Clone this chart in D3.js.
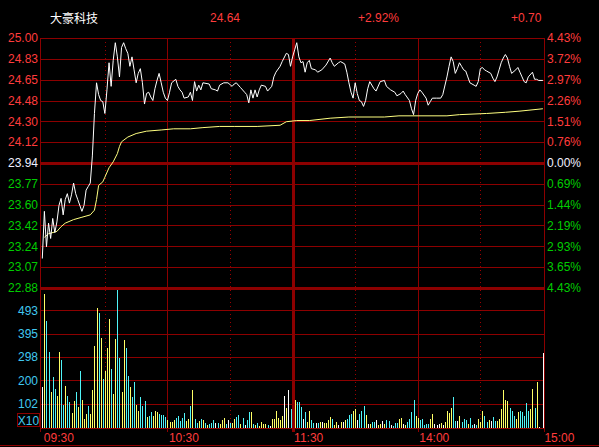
<!DOCTYPE html>
<html><head><meta charset="utf-8">
<script src="https://cdn.jsdelivr.net/npm/d3@7"></script>
<style>html,body{margin:0;padding:0;background:#000;overflow:hidden}svg{display:block}</style>
</head><body><svg id="c" width="599" height="447"></svg>
<script>
// ---------------- DATA ----------------
const stockName = "大豪科技";
const lastPrice = "24.64";
const changePct = "+2.92%";
const changeAmt = "+0.70";
const priceMax = 25.00, priceMin = 22.88, prevClose = 23.94;
const priceTicks = ["25.00","24.83","24.65","24.48","24.30","24.12","23.94","23.77","23.60","23.42","23.24","23.07","22.88"];
const pctTicks = ["4.43%","3.72%","2.97%","2.26%","1.51%","0.76%","0.00%","0.69%","1.44%","2.19%","2.93%","3.65%","4.43%"];
const volTicks = [102, 200, 298, 395, 493];
const volMax = 586;
const volUnit = "X10";
const timeLabels = ["09:30","10:30","11:30","14:00","15:00"];
const timeLabelMin = [0, 60, 120, 180, 240];
const solidGridMin = [60, 180];
const thickGridMin = [120];
const dottedGridMin = [30, 90, 150, 210];

const priceMinute = [0,1,2,3,4,5,6,7,8,9,10,11,12,13,14,15,16,17,19,20,21,22,23,24,25,26,27,28,29,30,31,32,33,34,35,36,37,38,39,40,41,42,43,44,45,46,47,48,49,50,51,52,53,54,55,56,57,58,59,60,61,62,64,65,66,67,68,70,71,72,73,74,75,76,77,80,81,83,84,85,87,89,91,92,93,95,97,98,99,100,101,102,103,104,105,107,108,110,111,112,114,115,117,118,119,120,121,122,123,124,125,126,127,128,129,131,132,134,136,138,139,140,142,143,145,146,147,148,149,150,151,152,153,154,155,156,157,159,160,162,164,165,167,169,170,172,173,174,176,177,178,179,180,181,182,184,185,186,187,189,191,192,194,195,196,197,198,199,200,201,202,203,204,205,207,208,209,210,211,212,213,215,216,217,218,219,220,221,222,223,224,225,227,228,229,230,231,232,233,235,236,237,238,240];
const priceValue = [23.13,23.53,23.23,23.43,23.30,23.47,23.35,23.44,23.58,23.64,23.50,23.63,23.68,23.60,23.67,23.77,23.68,23.63,23.53,23.58,23.71,23.74,23.77,24.00,24.36,24.62,24.52,24.47,24.46,24.36,24.56,24.79,24.59,24.81,24.96,24.84,24.67,24.92,24.96,24.91,24.87,24.76,24.84,24.73,24.62,24.70,24.74,24.62,24.44,24.53,24.54,24.50,24.47,24.57,24.64,24.70,24.62,24.54,24.49,24.47,24.54,24.62,24.65,24.59,24.56,24.54,24.49,24.50,24.54,24.47,24.63,24.55,24.60,24.56,24.62,24.61,24.57,24.56,24.55,24.60,24.62,24.62,24.59,24.61,24.62,24.58,24.54,24.52,24.45,24.56,24.49,24.56,24.50,24.56,24.60,24.59,24.55,24.59,24.67,24.71,24.76,24.80,24.87,24.86,24.76,24.84,24.90,24.96,24.84,24.79,24.80,24.71,24.79,24.81,24.74,24.73,24.71,24.73,24.77,24.83,24.79,24.76,24.79,24.80,24.78,24.71,24.62,24.54,24.49,24.62,24.53,24.47,24.46,24.42,24.47,24.57,24.63,24.57,24.55,24.63,24.64,24.59,24.56,24.54,24.51,24.53,24.55,24.52,24.47,24.40,24.35,24.47,24.53,24.56,24.54,24.49,24.43,24.46,24.49,24.49,24.49,24.52,24.67,24.76,24.84,24.80,24.70,24.74,24.79,24.76,24.73,24.72,24.67,24.62,24.60,24.59,24.63,24.74,24.75,24.73,24.72,24.70,24.66,24.63,24.67,24.73,24.79,24.83,24.86,24.83,24.76,24.70,24.73,24.75,24.71,24.67,24.63,24.62,24.67,24.71,24.65,24.65,24.64,24.64];

const avgMinute = [1,3,7,9,11,15,19,23,25,26,27,29,30,32,34,36,37,38,41,45,50,57,63,71,77,85,92,103,114,117,122,128,138,147,164,171,194,200,213,222,229,240];
const avgValue = [23.31,23.34,23.36,23.40,23.43,23.46,23.48,23.50,23.54,23.63,23.75,23.78,23.82,23.90,23.95,24.02,24.08,24.12,24.16,24.19,24.21,24.22,24.23,24.23,24.24,24.25,24.25,24.25,24.26,24.29,24.30,24.30,24.32,24.33,24.33,24.34,24.34,24.35,24.36,24.37,24.38,24.40];

const volume = [
173,559,448,319,150,215,164,132,319,286,
98,177,132,107,61,111,152,86,240,119,
36,57,90,57,161,344,502,481,377,207,
240,335,456,248,144,373,577,294,152,369,
335,219,173,128,194,98,73,128,94,111,
44,49,65,49,73,65,57,53,53,44,
32,24,24,32,40,49,28,40,61,29,
39,94,157,39,21,29,39,32,21,11,
18,21,32,21,21,15,32,42,15,32,
21,21,36,46,53,18,42,11,32,67,
67,15,11,21,7,25,15,15,11,7,
36,36,73,42,32,49,136,83,157,78,
46,119,108,108,87,36,67,25,71,32,
21,21,21,25,25,21,21,32,46,37,
12,24,14,25,25,32,39,55,60,73,
78,32,60,71,91,53,18,15,24,24,
32,11,18,28,15,32,29,14,10,19,
19,36,42,15,11,24,36,65,119,49,
42,32,36,11,15,15,36,57,18,11,
15,19,11,24,73,61,82,128,28,28,
49,24,36,32,15,40,11,18,11,36,
24,73,49,24,32,28,44,28,28,36,
78,157,119,115,82,73,49,36,69,73,
69,49,103,73,78,165,82,194,4,0,315];
// u = up (yellow), d = down (cyan), f = flat (white); one letter per minute
const volumeDir = [
"fuddudduud","dudduududu","uuduuuudud","uuuduudduu","ddudduuddd",
"udduuudddd","uuuudddddu","ududdududu","dddfduuudf","duuddudfdd",
"ududuuuudf","uuuuuufufd","uudddfduud","dfdufuuuud","uufufudddu",
"ufdddufudd","fuufuddfdd","duufuddddu","uddddduuff","fufuuuuddf",
"uddduddfdu","uuddufdduu","uuuuddduud","dddduudufff"
].join("").split("");

// ---------------- LAYOUT ----------------
const W = 599, H = 447;
const L = 40.5, R = 544.5, T = 38, PB = 288, VB = 428, BOT = 445;
const GRID = "#8c0000", DOT = "#9a0000";
const RED = "#ff3c3c", GREEN = "#00cc00", WHITE = "#f0f0ff", CYANT = "#40c8f0";
const FONT = "'Liberation Sans', Arial, sans-serif";
const colorMap = {u: "#ffff66", d: "#50f4f8", f: "#ffffff"};

const svg = d3.select("#c");
svg.append("rect").attr("width", W).attr("height", H).attr("fill", "#000");

const x = d3.scaleLinear().domain([0, 240]).range([42.3, 542.9]);
const y = d3.scaleLinear().domain([priceMin, priceMax]).range([PB, T]);
const yv = d3.scaleLinear().domain([0, volMax]).range([VB, PB]);

const g = svg.append("g").attr("shape-rendering", "crispEdges");

// price grid
const nP = priceTicks.length;
const gridPrices = d3.range(nP).map(i => priceMax - i * (priceMax - priceMin) / (nP - 1));
gridPrices.forEach((p, i) => {
  const thick = (i === 6 || i === nP - 1);
  const yy = thick ? Math.round(y(p)) : Math.round(y(p)) + 0.5;
  g.append("line").attr("x1", L).attr("x2", R).attr("y1", yy).attr("y2", yy)
    .attr("stroke", GRID).attr("stroke-width", thick ? 3 : 1);
});
// volume grid
volTicks.forEach(v => {
  const yy = Math.round(yv(v)) + 0.5;
  g.append("line").attr("x1", L).attr("x2", R).attr("y1", yy).attr("y2", yy).attr("stroke", GRID);
});
g.append("line").attr("x1", L).attr("x2", R).attr("y1", VB + 0.5).attr("y2", VB + 0.5).attr("stroke", GRID);
g.append("line").attr("x1", 0).attr("x2", W).attr("y1", BOT + 0.5).attr("y2", BOT + 0.5).attr("stroke", GRID);

// vertical grid
const VTOP = T, VEND = 432;
g.append("line").attr("x1", L).attr("x2", L).attr("y1", VTOP).attr("y2", VEND).attr("stroke", GRID);
g.append("line").attr("x1", R).attr("x2", R).attr("y1", VTOP).attr("y2", VEND).attr("stroke", GRID);
solidGridMin.forEach(m => {
  const xx = Math.round(x(m)) + 0.5;
  g.append("line").attr("x1", xx).attr("x2", xx).attr("y1", VTOP).attr("y2", VEND).attr("stroke", GRID);
});
dottedGridMin.forEach(m => {
  const xx = Math.round(x(m)) + 0.5;
  g.append("line").attr("x1", xx).attr("x2", xx).attr("y1", VTOP).attr("y2", VB).attr("stroke", DOT).attr("stroke-dasharray", "1,3");
});
g.append("line").attr("x1", L).attr("x2", R).attr("y1", T + 0.5).attr("y2", T + 0.5).attr("stroke", GRID);

// volume bars
const bars = svg.append("g").attr("shape-rendering", "crispEdges");
bars.selectAll("rect").data(volume).join("rect")
  .attr("x", (d, i) => Math.round(x(i)))
  .attr("width", 1)
  .attr("y", d => Math.round(yv(d)))
  .attr("height", d => VB - Math.round(yv(d)))
  .attr("fill", (d, i) => colorMap[volumeDir[i]] || "#ffffff");

// thick 11:30 / 13:00 separator over bars
const g2 = svg.append("g").attr("shape-rendering", "crispEdges");
thickGridMin.forEach(m => {
  const xx = Math.round(x(m)) + 0.5;
  g2.append("line").attr("x1", xx).attr("x2", xx).attr("y1", VTOP).attr("y2", VEND).attr("stroke", GRID).attr("stroke-width", 3);
});

// avg line
const avgData = avgMinute.map((m, i) => [m, avgValue[i]]);
svg.append("path").datum(avgData)
  .attr("d", d3.line().x(d => x(d[0])).y(d => y(d[1])))
  .attr("fill", "none").attr("stroke", "#ffff80").attr("stroke-width", 1);
// price line
const priceData = priceMinute.map((m, i) => [m, priceValue[i]]);
svg.append("path").datum(priceData)
  .attr("d", d3.line().x(d => x(d[0])).y(d => y(d[1])))
  .attr("fill", "none").attr("stroke", "#ffffff").attr("stroke-width", 1);

// labels
const txt = svg.append("g").attr("font-family", FONT).attr("font-size", 12);
priceTicks.forEach((t, i) => {
  const c = i < 6 ? RED : (i === 6 ? WHITE : GREEN);
  txt.append("text").attr("x", 38).attr("y", y(gridPrices[i])).attr("dy", "0.36em")
    .attr("text-anchor", "end").attr("fill", c).text(t);
});
pctTicks.forEach((t, i) => {
  const c = i < 6 ? RED : (i === 6 ? WHITE : GREEN);
  txt.append("text").attr("x", 547).attr("y", y(gridPrices[i])).attr("dy", "0.36em")
    .attr("fill", c).text(t);
});
volTicks.forEach(v => {
  txt.append("text").attr("x", 38).attr("y", yv(v)).attr("dy", "0.36em")
    .attr("text-anchor", "end").attr("fill", CYANT).text(v);
});
svg.append("rect").attr("x", 17.5).attr("y", 413.5).attr("width", 22).attr("height", 13)
  .attr("fill", "none").attr("stroke", GRID);
txt.append("text").attr("x", 28.5).attr("y", 424.5).attr("text-anchor", "middle").attr("fill", CYANT).text(volUnit);
timeLabels.forEach((t, i) => {
  txt.append("text").attr("x", x(timeLabelMin[i]) + 1.5).attr("y", 441.5).attr("fill", RED).text(t);
});

// header
const hdr = svg.append("g").attr("font-size", 12);
hdr.append("text").attr("x", 50).attr("y", 23).attr("fill", "#ffffff")
  .attr("font-family", "'Noto Sans CJK SC', sans-serif").text(stockName);
hdr.append("text").attr("x", 210).attr("y", 22).attr("fill", RED).attr("font-family", FONT).text(lastPrice);
hdr.append("text").attr("x", 358).attr("y", 22).attr("fill", RED).attr("font-family", FONT).text(changePct);
hdr.append("text").attr("x", 511).attr("y", 22).attr("fill", RED).attr("font-family", FONT).text(changeAmt);
</script>
</body></html>
